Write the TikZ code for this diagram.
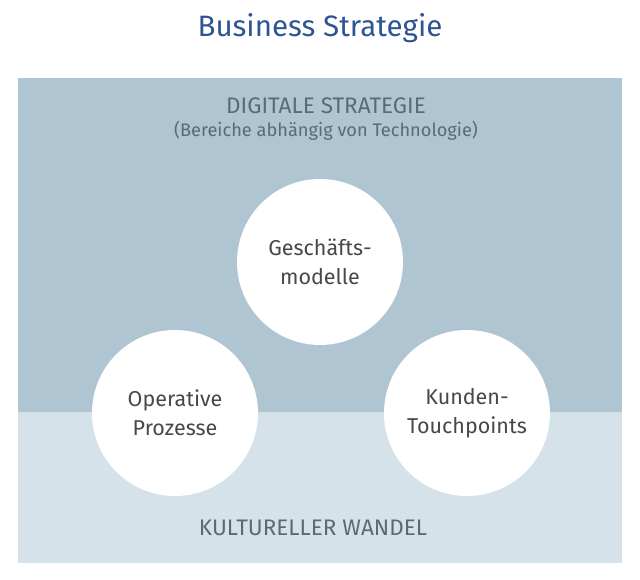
\documentclass[tikz,border=0pt]{standalone}
\usepackage{fontspec}
\setmainfont{Fira Sans}
\definecolor{titleblue}{HTML}{2E5494}
\definecolor{darkband}{HTML}{AFC5D2}
\definecolor{lightband}{HTML}{D6E2EA}
\definecolor{labelgray}{HTML}{5B6B76}
\definecolor{circletext}{HTML}{484848}
\begin{document}
\begin{tikzpicture}[x=1pt,y=1pt,
  bubble/.style={circle,fill=white,minimum size=166pt,inner sep=0pt,align=center,
    text=circletext,font=\fontsize{21.5}{29}\selectfont},
  bandlabel/.style={text=labelgray,align=center,inner sep=0pt}]
\useasboundingbox (0,0) rectangle (640,580);
\fill[lightband] (18,17) rectangle (622,168);
\fill[darkband] (18,168) rectangle (622,502);
\node[text=titleblue,font=\fontsize{29.5}{34}\selectfont,inner sep=0pt] (title) at (320,552) {Business Strategie};
\node[bandlabel,font=\fontsize{22.5}{26}\selectfont] (digital) at (326,474) {DIGITALE STRATEGIE};
\node[bandlabel,font=\fontsize{18.2}{22}\selectfont] (digitalsub) at (326,449) {(Bereiche abhängig von Technologie)};
\node[bubble] (gm) at (320,318) {Geschäfts-\\modelle};
\node[bubble] (op) at (175,167) {Operative\\Prozesse};
\node[bubble] (kt) at (467,167) {Kunden-\\Touchpoints};
\node[bandlabel,font=\fontsize{22.5}{26}\selectfont] (kultur) at (313,52) {KULTURELLER WANDEL};
\end{tikzpicture}
\end{document}
